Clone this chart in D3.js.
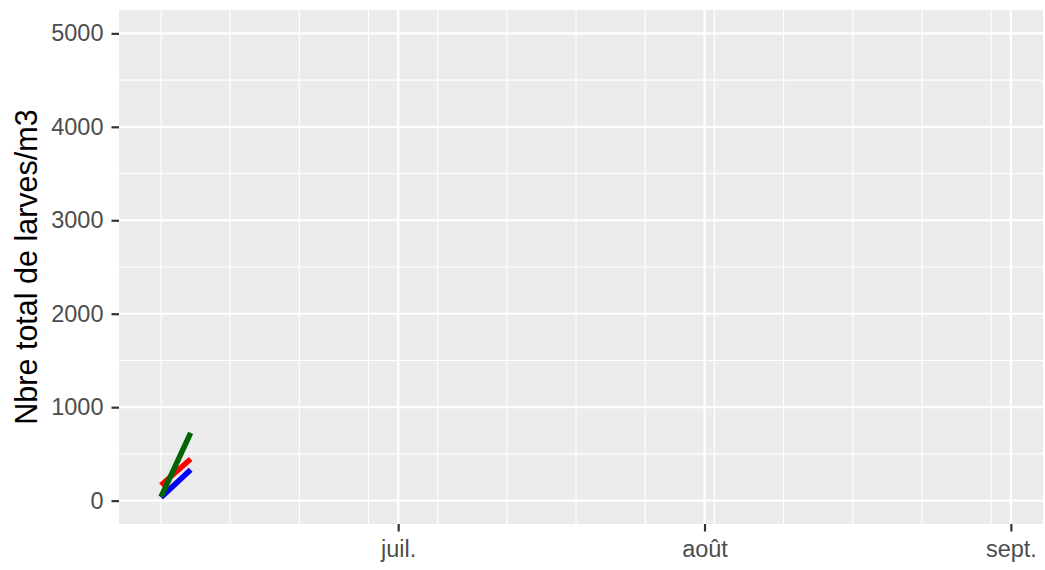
<!DOCTYPE html>
<html>
<head>
<meta charset="utf-8">
<script src="https://cdn.jsdelivr.net/npm/d3@7"></script>
<style>
    body { margin: 0; background: #ffffff; }
    svg { display: block; font-family: Arial, "Liberation Sans", sans-serif; }
</style>
</head>
<body>
<svg id="chart" width="1045" height="570"></svg>
<script>
// sampling dates and larvae counts per m3 for each series
var sampleDates = ["2020-06-07", "2020-06-10"];
var redValues = [165, 445];
var blueValues = [35, 330];
var greenValues = [40, 725];

// axis limits and breaks
var xLimits = ["2020-06-07", "2020-08-31"];
var monthBreaks = ["2020-07-01", "2020-08-01", "2020-09-01"];
var monthLabels = ["juil.", "août", "sept."];
var weekBreaks = ["2020-06-07", "2020-06-14", "2020-06-21", "2020-06-28", "2020-07-05", "2020-07-12",
    "2020-07-19", "2020-07-26", "2020-08-02", "2020-08-09", "2020-08-16", "2020-08-23", "2020-08-30"];
var yLimits = [0, 5000];
var yBreaks = [0, 1000, 2000, 3000, 4000, 5000];
var yMinorBreaks = [500, 1500, 2500, 3500, 4500];

var parseDay = d3.timeParse("%Y-%m-%d");

document.addEventListener('DOMContentLoaded', function () {
    drawChart();
});

function drawChart() {
    var panel = { left: 119, right: 1043, top: 10, bottom: 524 };

    // ggplot style 5% expansion on both scales
    var x0 = parseDay(xLimits[0]).getTime();
    var x1 = parseDay(xLimits[1]).getTime();
    var xPad = (x1 - x0) * 0.05;
    var xScale = d3.scaleTime()
        .domain([new Date(x0 - xPad), new Date(x1 + xPad)])
        .range([panel.left, panel.right]);

    var yPad = (yLimits[1] - yLimits[0]) * 0.05;
    var yScale = d3.scaleLinear()
        .domain([yLimits[0] - yPad, yLimits[1] + yPad])
        .range([panel.bottom, panel.top]);

    var svg = d3.select('#chart');
    svg.selectAll("*").remove();

    svg.append('rect')
        .attr('x', panel.left)
        .attr('y', panel.top)
        .attr('width', panel.right - panel.left)
        .attr('height', panel.bottom - panel.top)
        .style('fill', '#ebebeb');

    var grid = svg.append('g');

    // minor grid
    grid.selectAll('.hMinor')
        .data(yMinorBreaks)
        .enter()
        .append('line')
        .attr('x1', panel.left).attr('x2', panel.right)
        .attr('y1', d => yScale(d)).attr('y2', d => yScale(d))
        .style('stroke', '#ffffff').style('stroke-width', 1.1);

    grid.selectAll('.vMinor')
        .data(weekBreaks)
        .enter()
        .append('line')
        .attr('x1', d => xScale(parseDay(d))).attr('x2', d => xScale(parseDay(d)))
        .attr('y1', panel.top).attr('y2', panel.bottom)
        .style('stroke', '#ffffff').style('stroke-width', 1.1);

    // major grid
    grid.selectAll('.hMajor')
        .data(yBreaks)
        .enter()
        .append('line')
        .attr('x1', panel.left).attr('x2', panel.right)
        .attr('y1', d => yScale(d)).attr('y2', d => yScale(d))
        .style('stroke', '#ffffff').style('stroke-width', 2.2);

    grid.selectAll('.vMajor')
        .data(monthBreaks)
        .enter()
        .append('line')
        .attr('x1', d => xScale(parseDay(d))).attr('x2', d => xScale(parseDay(d)))
        .attr('y1', panel.top).attr('y2', panel.bottom)
        .style('stroke', '#ffffff').style('stroke-width', 2.2);

    // series
    var series = [
        { color: '#ff0000', values: redValues },
        { color: '#0000ff', values: blueValues },
        { color: '#006400', values: greenValues }
    ];

    var line = d3.line()
        .x((d, i) => xScale(parseDay(sampleDates[i])))
        .y(d => yScale(d));

    svg.selectAll('.series')
        .data(series)
        .enter()
        .append('path')
        .attr('class', 'series')
        .attr('d', d => line(d.values))
        .style('fill', 'none')
        .style('stroke', d => d.color)
        .style('stroke-width', 5.5)
        .style('stroke-linecap', 'butt');

    // axes
    var axisLeft = d3.axisLeft(yScale)
        .tickValues(yBreaks)
        .tickSize(7.5)
        .tickPadding(8)
        .tickFormat(d3.format("d"));

    var yAxis = svg.append('g')
        .attr('transform', 'translate(' + panel.left + ', 0)')
        .call(axisLeft);

    var axisBottom = d3.axisBottom(xScale)
        .tickValues(monthBreaks.map(parseDay))
        .tickSize(7.5)
        .tickPadding(9)
        .tickFormat((d, i) => monthLabels[i]);

    var xAxis = svg.append('g')
        .attr('transform', 'translate(0, ' + panel.bottom + ')')
        .call(axisBottom);

    [yAxis, xAxis].forEach(function (ax) {
        ax.select('.domain').remove();
        ax.selectAll('.tick line').style('stroke', '#333333').style('stroke-width', 2.2);
        ax.selectAll('.tick text')
            .style('fill', '#4d4d4d')
            .style('font-size', '23.5px')
            .style('font-family', 'Arial, "Liberation Sans", sans-serif');
    });

    // axis title
    svg.append('text')
        .attr('transform', 'translate(37, ' + ((panel.top + panel.bottom) / 2) + ') rotate(-90)')
        .attr('text-anchor', 'middle')
        .style('font-size', '30.5px')
        .style('fill', '#000000')
        .text('Nbre total de larves/m3');
}
</script>
</body>
</html>
